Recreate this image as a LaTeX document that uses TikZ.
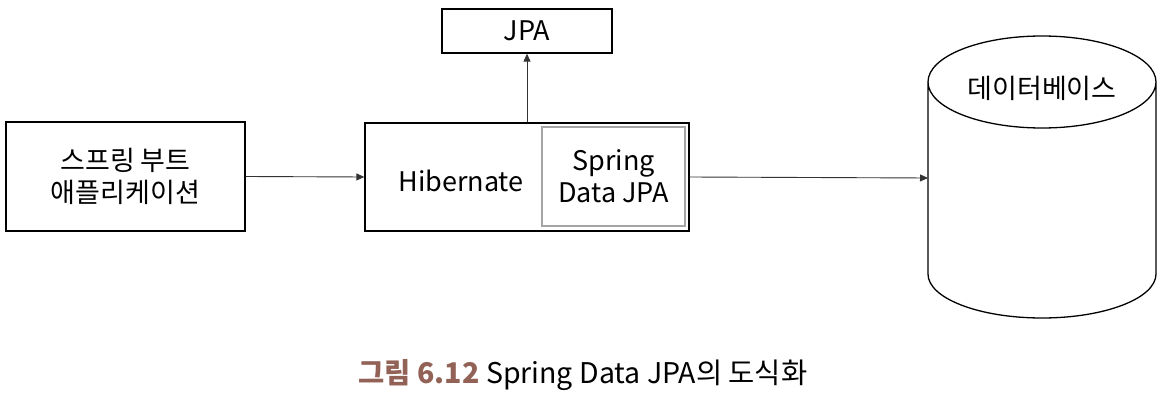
\documentclass[tikz,border=0pt]{standalone}
\usepackage{fontspec}
\setmainfont{Noto Sans CJK KR}
\usetikzlibrary{arrows.meta}
\definecolor{capbrown}{RGB}{146,98,86}
\definecolor{innergray}{RGB}{165,165,165}
\tikzset{
  box/.style={draw=black, line width=1.3pt, inner sep=0pt},
  conn/.style={draw=black!80, line width=0.9pt, -{Triangle[length=8pt,width=7pt]}},
  lbl/.style={font=\fontsize{27}{32}\selectfont, align=center},
}
\begin{document}
\begin{tikzpicture}[x=1pt,y=-1pt]
\useasboundingbox (0,0) rectangle (1176,409);
% boxes
\node[box, minimum width=239pt, minimum height=109pt, lbl] (app) at (125.5,176.5) {스프링 부트\\애플리케이션};
\node[box, minimum width=324pt, minimum height=108pt] (hib) at (527,177) {};
\node[lbl, anchor=center] (hibtxt) at (461,181) {Hibernate};
\node[draw=innergray, line width=1.3pt, minimum width=143pt, minimum height=99pt, inner sep=0pt, lbl] (sdj) at (613.5,176.5) {Spring\\Data JPA};
\node[box, minimum width=170pt, minimum height=44pt, lbl] (jpa) at (527,31) {JPA};
% cylinder
\coordinate (dbl) at (928,178);
\draw[line width=1.3pt] (928,82) arc[start angle=180, end angle=360, x radius=114, y radius=46]
  arc[start angle=0, end angle=180, x radius=114, y radius=46] -- (928,274)
  arc[start angle=180, end angle=0, x radius=114, y radius=44] -- (1156,82);
\node[lbl] (db) at (1042,88) {데이터베이스};
% connectors
\draw[conn] (app.east) -- (hib.west);
\draw[conn] (hib.north) -- (jpa.south);
\draw[conn] (hib.east) -- (dbl);
% caption
\node[font=\fontsize{28.5}{32}\selectfont, anchor=center] (cap) at (583,375) {{\color{capbrown}\bfseries 그림 6.12} Spring Data JPA의 도식화};
\end{tikzpicture}
\end{document}
